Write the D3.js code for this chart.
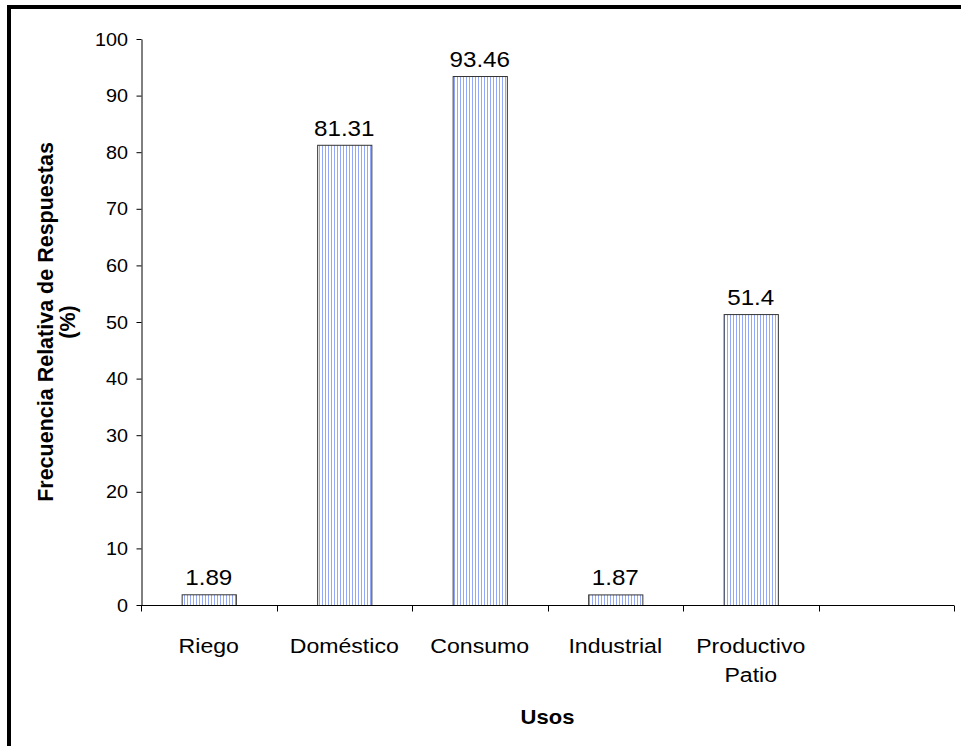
<!DOCTYPE html>
<html><head><meta charset="utf-8">
<script src="https://cdn.jsdelivr.net/npm/d3@7"></script>
<style>body{margin:0;background:#fff}svg{display:block}text{font-family:"Liberation Sans",Arial,sans-serif;fill:#000}</style>
</head><body>
<svg id="c" width="961" height="746"></svg>
<script>
const categories = ["Riego","Doméstico","Consumo","Industrial","Productivo\nPatio",""];
const values = [1.89, 81.31, 93.46, 1.87, 51.4, null];
const yTicks = [0,10,20,30,40,50,60,70,80,90,100];
const yTitle = ["Frecuencia Relativa de Respuestas","(%)"];
const xTitle = "Usos";

const SX = 1.1; // horizontal stretch of the original picture's text
const svg = d3.select("#c");
const m = {l:141, r:954, t:39, b:605};
const defs = svg.append("defs");
const pat = defs.append("pattern").attr("id","vs").attr("patternUnits","userSpaceOnUse").attr("width",3).attr("height",4);
pat.append("rect").attr("width",3).attr("height",4).attr("fill","#fff");
pat.append("rect").attr("x",1).attr("width",1).attr("height",4).attr("fill","#93a8fb");

svg.append("rect").attr("x",9).attr("y",7).attr("width",1000).attr("height",1000).attr("fill","none").attr("stroke","#000").attr("stroke-width",4);

const x = d3.scaleBand().domain(d3.range(categories.length)).range([m.l,m.r]).paddingInner(0).paddingOuter(0);
const y = d3.scaleLinear().domain([0,100]).range([m.b,m.t]);

function htext(g, px, py, str, size, weight, anchor){
  return g.append("text").attr("transform",`translate(${px},${py}) scale(${SX},1)`)
    .attr("text-anchor",anchor||"middle").style("font-size",size+"px")
    .style("font-weight",weight||"normal").text(str);
}

// bars
const bw = x.bandwidth()*0.4;
const data = values.map((v,i)=>({v,i})).filter(d=>d.v!=null);
svg.append("g").selectAll("rect").data(data).join("rect")
  .attr("x",d=>x(d.i)+x.bandwidth()/2-bw/2+0.5)
  .attr("y",d=>y(d.v)+0.5)
  .attr("width",bw)
  .attr("height",d=>y(0)-y(d.v))
  .attr("fill","url(#vs)").attr("stroke","#333").attr("stroke-width",1);

const lg = svg.append("g");
data.forEach(d=>htext(lg, x(d.i)+x.bandwidth()/2, y(d.v)-9, String(d.v), 22));

// y axis
const ya = svg.append("g").attr("transform",`translate(${m.l+0.5},0)`)
  .call(d3.axisLeft(y).tickValues(yTicks).tickSize(5).tickSizeOuter(0).tickFormat(""));
ya.selectAll("path,line").attr("stroke","#000");
const tg = svg.append("g");
yTicks.forEach(t=>htext(tg, m.l-13, y(t)+6.5, String(t), 18, "normal", "end"));

// x axis
const xa = svg.append("g").attr("transform",`translate(0,${m.b+0.5})`);
xa.append("line").attr("x1",m.l).attr("x2",m.r).attr("stroke","#000");
const bounds = d3.range(categories.length+1).map(i=> i<categories.length ? x(i) : m.r);
xa.selectAll("line.t").data(bounds).join("line").attr("class","t")
  .attr("x1",d=>Math.round(d)+0.5).attr("x2",d=>Math.round(d)+0.5).attr("y1",0).attr("y2",6).attr("stroke","#000");
categories.forEach((c,i)=>{
  c.split("\n").forEach((ln,j)=>{
    htext(xa, x(i)+x.bandwidth()/2, 47+j*29, ln, 21);
  });
});

htext(svg, (m.l+m.r)/2, 724, xTitle, 20, "bold");

const cy = (m.t+m.b)/2;
yTitle.forEach((t,j)=>{
  svg.append("text").attr("transform",`translate(${53+j*22},${cy}) rotate(-90)`)
    .attr("text-anchor","middle").style("font-size","21.5px").style("font-weight","bold").text(t);
});
</script>
</body></html>
